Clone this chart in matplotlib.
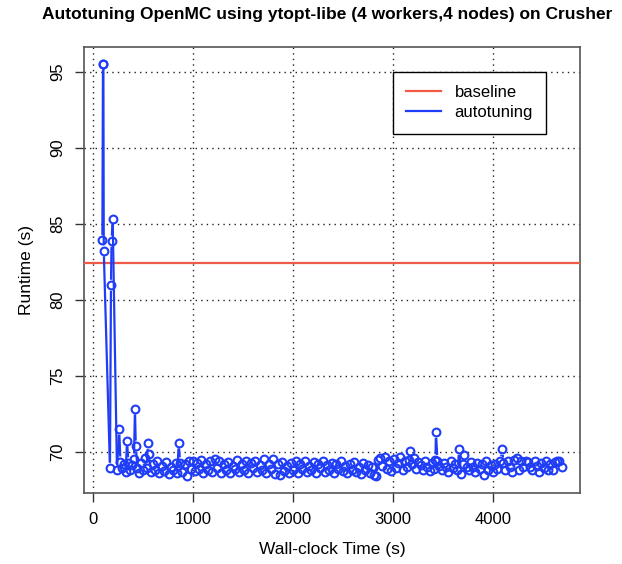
import numpy as np
import matplotlib
matplotlib.use("Agg")
import matplotlib.pyplot as plt
from matplotlib.collections import LineCollection
from matplotlib.lines import Line2D

plt.rcParams['font.family'] = ['Liberation Sans', 'DejaVu Sans']

# wall-clock completion time (s) and runtime (s) of each evaluation
wall_time = [
    94, 100, 104, 108, 170, 180, 186, 197, 240, 262,
    275, 292, 310, 328, 340, 355, 372, 392, 410, 420,
    428, 445, 462, 480, 500, 518, 536, 550, 563, 580,
    600, 622, 645, 665, 688, 710, 735, 758, 780, 805,
    828, 845, 857, 872, 895, 918, 940, 962, 985,
    1005, 1020, 1042, 1065, 1085, 1105, 1128, 1150, 1172, 1195,
    1218, 1240, 1262, 1285, 1308, 1330, 1352, 1375, 1398, 1420,
    1442, 1465, 1488, 1510, 1532, 1555, 1578, 1600, 1622, 1645,
    1668, 1690, 1712, 1735, 1758, 1780, 1802, 1825, 1848, 1870,
    1892, 1915, 1938, 1960, 1982,
    2005, 2028, 2050, 2072, 2095, 2118, 2140, 2162, 2185, 2208,
    2230, 2252, 2275, 2298, 2320, 2342, 2365, 2388, 2410, 2432,
    2455, 2478, 2500, 2522, 2545, 2568, 2590, 2612, 2635, 2658,
    2680, 2702, 2725, 2748, 2770, 2792, 2815, 2835, 2850, 2872,
    2895, 2918, 2940, 2962, 2985,
    3008, 3030, 3052, 3075, 3098, 3120, 3142, 3162, 3173, 3190,
    3210, 3232, 3255, 3278, 3300, 3322, 3345, 3368, 3390, 3412,
    3425, 3430, 3445, 3465, 3488, 3510, 3532, 3555, 3580, 3600,
    3622, 3645, 3663, 3680, 3700, 3715, 3737, 3758, 3780, 3800,
    3822, 3845, 3868, 3890, 3910, 3932, 3955, 3978, 4000,
    4022, 4045, 4068, 4093, 4105, 4125, 4148, 4170, 4192, 4215,
    4238, 4260, 4282, 4305, 4328, 4350, 4372, 4395, 4418, 4440,
    4462, 4485, 4508, 4530, 4552, 4575, 4598, 4620, 4642, 4665,
    4687,
]
runtime = [
    83.92, 95.50, 95.55, 83.24, 68.95, 80.97, 83.87, 85.35, 68.85, 71.50,
    69.35, 68.95, 69.25, 68.70, 70.75, 69.30, 68.85, 69.15, 69.55, 72.84,
    70.40, 68.95, 68.60, 69.30, 68.80, 69.60, 68.95, 70.57, 69.85, 68.70,
    69.25, 68.85, 69.40, 68.60, 69.10, 68.75, 69.35, 68.55, 69.05, 68.80,
    69.30, 68.65, 70.60, 69.30, 68.70, 69.20, 68.45, 69.40, 68.90,
    69.45, 68.75, 69.30, 68.90, 69.50, 68.60, 69.20, 68.85, 69.40, 68.70,
    69.58, 68.95, 69.45, 68.65, 69.25, 68.80, 69.35, 68.60, 69.10, 68.90,
    69.50, 68.70, 69.20, 68.85, 69.40, 68.60, 69.30, 68.95, 69.45, 68.70,
    69.15, 68.80, 69.55, 68.65, 69.25, 68.90, 69.58, 68.55, 69.20, 68.53,
    69.35, 68.75, 69.10, 68.60, 69.30,
    68.80, 69.40, 68.65, 69.20, 68.90, 69.45, 68.70, 69.10, 68.85, 69.35,
    68.60, 69.25, 68.95, 69.40, 68.70, 69.15, 68.80, 69.30, 68.65, 69.20,
    68.90, 69.40, 68.75, 69.10, 68.60, 69.25, 68.85, 69.35, 68.70, 69.05,
    68.55, 69.30, 68.80, 69.15, 68.65, 69.00, 68.50, 68.40, 69.50, 69.60,
    69.10, 69.65, 68.90, 69.40, 68.75,
    69.55, 68.95, 69.30, 69.70, 68.80, 69.45, 69.00, 69.50, 70.07, 69.20,
    69.60, 68.90, 69.35, 69.15, 68.85, 69.40, 69.05, 68.75, 69.30, 68.90,
    69.50, 71.30, 69.45, 69.10, 68.85, 69.30, 69.00, 68.70, 69.45, 68.95,
    69.20, 68.80, 70.18, 68.56, 69.25, 69.78, 69.05, 68.80, 69.35, 69.00,
    68.70, 69.30, 68.90, 69.20, 68.52, 69.40, 68.85, 69.15, 68.70,
    69.25, 68.90, 69.40, 70.18, 69.30, 68.80, 69.45, 69.00, 68.70, 69.50,
    69.60, 68.85, 69.40, 69.00, 69.45, 69.35, 69.05, 68.80, 69.45, 69.10,
    68.70, 69.30, 68.95, 69.40, 68.80, 69.20, 68.85, 69.35, 69.40, 69.45,
    69.05,
]
baseline = 82.45

x_ticks = [0, 1000, 2000, 3000, 4000]
y_ticks = [70, 75, 80, 85, 90, 95]

red = '#ee5a45'
blue = '#1f3cf7'

fig = plt.figure(figsize=(6.22, 5.64), dpi=100)
ax = fig.add_axes([84 / 622, 1 - 493 / 564, 496 / 622, 446 / 564])

# R style 4% padding of the data range
xr = max(wall_time) - min(wall_time)
yr = max(runtime) - min(runtime)
ax.set_xlim(min(wall_time) - 0.04 * xr, max(wall_time) + 0.04 * xr)
ax.set_ylim(min(runtime) - 0.04 * yr, max(runtime) + 0.04 * yr)

ax.set_xticks(x_ticks)
ax.set_yticks(y_ticks)
ax.grid(True, color='#222222', linestyle=(0, (1, 3)), linewidth=1.0)
ax.set_axisbelow(True)

ax.axhline(baseline, color=red, linewidth=1.6, zorder=3)

# type="b": lines stop short of each circle
gap = 5.5
pts = ax.transData.transform(np.column_stack([wall_time, runtime]))
segs = []
for p, q in zip(pts[:-1], pts[1:]):
    d = q - p
    L = np.hypot(d[0], d[1])
    if L <= 2 * gap:
        continue
    u = d / L
    segs.append(ax.transData.inverted().transform(np.array([p + u * gap, q - u * gap])))
ax.add_collection(LineCollection(segs, colors=blue, linewidths=1.6, zorder=4))
ax.plot(wall_time, runtime, linestyle='none', marker='o', markersize=5.6,
        markerfacecolor='none', markeredgecolor=blue, markeredgewidth=1.5, zorder=5)

for s in ax.spines.values():
    s.set_color('#555555')
    s.set_linewidth(1.2)
ax.tick_params(direction='out', length=6.5, width=1, color='#333333',
               labelsize=12, pad=7)
for lab in ax.get_yticklabels():
    lab.set_rotation(90)
    lab.set_va('center')

ax.set_xlabel('Wall-clock Time (s)', fontsize=12.5, labelpad=11)
ax.set_ylabel('Runtime (s)', fontsize=12.5, labelpad=12)
fig.text(327 / 622, 1 - 14 / 564,
         'Autotuning OpenMC using ytopt-libe (4 workers,4 nodes) on Crusher',
         ha='center', va='center', fontsize=12.5, fontweight='bold')

handles = [Line2D([], [], color=red, linewidth=1.6),
           Line2D([], [], color=blue, linewidth=1.6)]
leg = ax.legend(handles, ['baseline', 'autotuning'], loc='upper left',
                bbox_to_anchor=(3000, 95), bbox_transform=ax.transData,
                fontsize=12, frameon=True, fancybox=False, framealpha=1,
                edgecolor='black', borderpad=0.8, handlelength=2.1,
                handletextpad=0.8, labelspacing=0.3, borderaxespad=0)
leg.get_frame().set_linewidth(1.0)
leg.set_zorder(6)

fig.savefig('out.png', dpi=100)
